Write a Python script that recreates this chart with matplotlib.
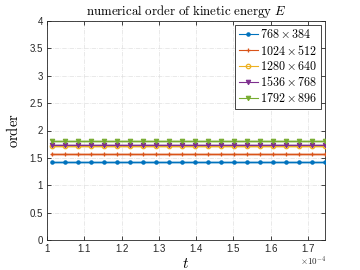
import matplotlib
matplotlib.use("Agg")
import matplotlib.pyplot as plt
from matplotlib.ticker import FuncFormatter

plt.rcParams['mathtext.fontset'] = 'cm'
plt.rcParams['axes.unicode_minus'] = False

# time in units of 1e-4
t = [1.0142, 1.0490, 1.0838, 1.1187, 1.1535, 1.1883, 1.2231, 1.2580,
     1.2928, 1.3276, 1.3624, 1.3973, 1.4321, 1.4669, 1.5017, 1.5366,
     1.5714, 1.6062, 1.6410, 1.6759, 1.7107, 1.7455]
labels = [r"$768\times384$", r"$1024\times512$", r"$1280\times640$",
          r"$1536\times768$", r"$1792\times896$"]
order_768 = [1.42] * 22
order_1024 = [1.57] * 22
order_1280 = [1.71] * 22
order_1536 = [1.74] * 22
order_1792 = [1.81] * 22
series = [order_768, order_1024, order_1280, order_1536, order_1792]
colors = ['#0072BD', '#D95319', '#EDB120', '#7E2F8E', '#77AC30']
markers = ['.', '+', 'o', 'v', 'v']
xticks = [1.0, 1.1, 1.2, 1.3, 1.4, 1.5, 1.6, 1.7]
yticks = [0, 0.5, 1, 1.5, 2, 2.5, 3, 3.5, 4]

fig = plt.figure(figsize=(3.6, 2.7), dpi=100)
ax = fig.add_axes([47/360, 30/270, 278/360, 219/270])

for y, c, m, lab in zip(series, colors, markers, labels):
    ax.plot(t, y, color=c, lw=2.2, alpha=0.35, zorder=2)
    if m == 'o':
        ax.plot(t, y, color=c, lw=0.8, marker=m, ms=3.2, mfc='none', mew=0.9, label=lab, zorder=3)
    elif m == '+':
        ax.plot(t, y, color=c, lw=0.8, marker=m, ms=3.5, mew=0.9, label=lab, zorder=3)
    elif m == '.':
        ax.plot(t, y, color=c, lw=0.8, marker=m, ms=4.5, label=lab, zorder=3)
    else:
        ax.plot(t, y, color=c, lw=0.8, marker=m, ms=3.2, mew=0.8, label=lab, zorder=3)

ax.set_xlim(1.0, 1.7455)
ax.set_ylim(0, 4)
ax.set_xticks(xticks)
ax.set_yticks(yticks)
fmt = FuncFormatter(lambda v, p: '%g' % v)
ax.xaxis.set_major_formatter(fmt)
ax.yaxis.set_major_formatter(fmt)
ax.tick_params(direction='in', top=True, right=True, length=3, width=0.6,
               labelsize=7, colors='#262626', pad=3)
for lab in ax.get_xticklabels() + ax.get_yticklabels():
    lab.set_family('Liberation Sans')
for s in ax.spines.values():
    s.set_color('#262626')
    s.set_linewidth(0.6)
ax.grid(True, color='#e0e0e0', linestyle='-.', linewidth=0.5)
ax.set_axisbelow(True)

ax.set_title(r"$\mathrm{numerical\ order\ of\ kinetic\ energy}\ E$", fontsize=9.3, pad=4)
ax.set_xlabel(r"$t$", fontsize=11, labelpad=1)
ax.set_ylabel(r"$\mathrm{order}$", fontsize=10.5, labelpad=6)
fig.text(300/360, 1 - 261/270, r"$\mathsf{\times 10^{-4}}$", fontsize=6.5, color='#262626',
         ha='left', va='center')

leg = ax.legend(loc='upper right', fontsize=8.7, frameon=True, fancybox=False,
                edgecolor='#262626', framealpha=1, borderpad=0.3, labelspacing=0.2,
                handlelength=1.6, handletextpad=0.2, borderaxespad=0.3)
leg.get_frame().set_linewidth(0.6)

fig.savefig('out.png', dpi=100)
